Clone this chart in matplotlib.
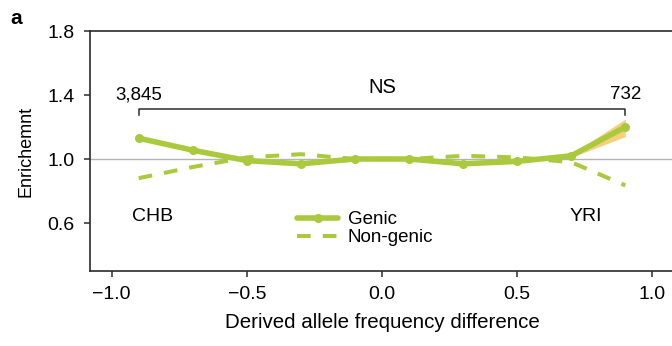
import numpy as np
import matplotlib
matplotlib.use("Agg")
import matplotlib.pyplot as plt

plt.rcParams["font.family"] = ["Liberation Sans", "DejaVu Sans"]

# derived allele frequency difference bins
freq_diff = [-0.9, -0.7, -0.5, -0.3, -0.1, 0.1, 0.3, 0.5, 0.7, 0.9]
genic = [1.13, 1.055, 0.99, 0.97, 1.00, 1.00, 0.97, 0.985, 1.02, 1.20]
genic_lo = [1.12, 1.05, 0.985, 0.965, 0.995, 0.995, 0.965, 0.98, 1.01, 1.14]
genic_hi = [1.14, 1.06, 0.995, 0.975, 1.005, 1.005, 0.975, 0.99, 1.03, 1.25]
non_genic = [0.88, 0.95, 1.01, 1.03, 1.00, 1.00, 1.02, 1.01, 0.98, 0.835]

n_left, n_right = "3,845", "732"
x_ticks = [-1.0, -0.5, 0.0, 0.5, 1.0]
y_ticks = [0.6, 1.0, 1.4, 1.8]

green = "#abc93c"
band = "#f3c65e"
dark = "#2b2b2b"
fs = 14

W, H = 672, 346
fig = plt.figure(figsize=(W / 100, H / 100), dpi=100)
ax = fig.add_axes([90 / W, (H - 271) / H, (674 - 90) / W, (271 - 31) / H])

ax.axhline(1.0, color="#b4b4b4", lw=1.0, zorder=1)
ax.fill_between(freq_diff, genic_lo, genic_hi, color=band, alpha=0.8, lw=0, zorder=2)
ax.plot(freq_diff, non_genic, color=green, lw=2.9, dashes=(3.4, 3),
        label="Non-genic", zorder=3)
ax.plot(freq_diff, genic, color=green, lw=4.0, marker="o", ms=5.5,
        label="Genic", zorder=4, solid_capstyle="round")

# significance bracket
ax.plot([-0.9, -0.9, 0.9, 0.9], [1.275, 1.315, 1.315, 1.275],
        color=dark, lw=1.1, zorder=5)
ax.text(0.0, 1.385, "NS", ha="center", va="bottom", fontsize=fs + 0.5)
ax.text(-0.9, 1.35, n_left, ha="center", va="bottom", fontsize=fs - 0.5)
ax.text(0.9, 1.35, n_right, ha="center", va="bottom", fontsize=fs - 0.5)

ax.text(-0.85, 0.64, "CHB", ha="center", va="center", fontsize=fs)
ax.text(0.755, 0.64, "YRI", ha="center", va="center", fontsize=fs)

handles, labels = ax.get_legend_handles_labels()
ax.legend(handles[::-1], labels[::-1], loc="upper left",
          bbox_to_anchor=((297 - 90) / 584, (271 - 211) / 240),
          frameon=False, fontsize=fs - 0.5, handlelength=2.2, handletextpad=0.5,
          labelspacing=0.05, borderpad=0, borderaxespad=0)

ax.set_xlim(-1.08, 1.08)
ax.set_ylim(0.3, 1.8)
ax.set_xticks(x_ticks)
ax.set_xticklabels(["\u22121.0", "\u22120.5", "0.0", "0.5", "1.0"])
ax.set_yticks(y_ticks)
ax.set_yticklabels(["0.6", "1.0", "1.4", "1.8"])
ax.tick_params(direction="out", length=4, width=1.1, color=dark,
               labelsize=fs, pad=7)
for s in ax.spines.values():
    s.set_color(dark)
    s.set_linewidth(1.2)

ax.set_xlabel("Derived allele frequency difference", fontsize=fs + 0.8, labelpad=7)
ax.set_ylabel("Enrichemnt", fontsize=13, labelpad=9)
fig.text(10 / W, 1 - 18 / H, "a", fontsize=15, fontweight="bold",
         ha="left", va="center")

fig.savefig("out.png", dpi=100)
